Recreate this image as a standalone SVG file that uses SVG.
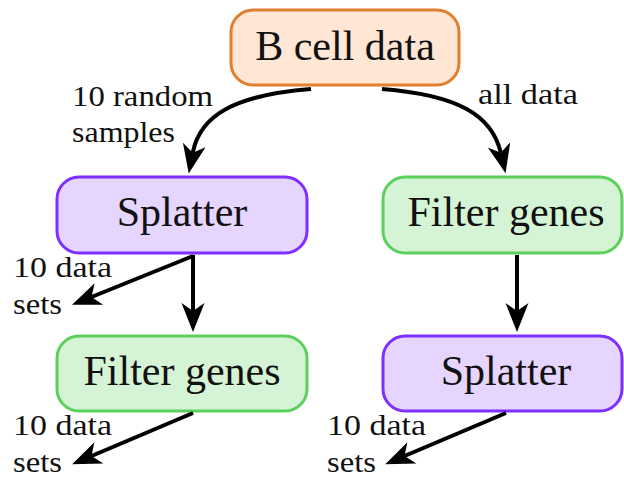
<svg xmlns="http://www.w3.org/2000/svg" width="624" height="479" viewBox="0 0 624 479">
<style>
.node rect{stroke-width:3}
.orange rect{fill:#FFE6D5;stroke:#E07F2E}
.purple rect{fill:#E5D5FF;stroke:#7F2FFF}
.green rect{fill:#D5F3D5;stroke:#5CD05C}
.node text{font-size:42px;fill:#111;text-anchor:middle}
.lbl{font-size:30px;fill:#111}
#connectors path{fill:none;stroke:#000;stroke-width:4}
</style>
<defs>
<marker id="stealth" viewBox="-10 -13 33 26" markerWidth="33" markerHeight="26" refX="0" refY="0" orient="auto" markerUnits="userSpaceOnUse">
<path d="M21,0 L-8,-11.5 L0,0 L-8,11.5 Z" fill="#000"/>
</marker>
</defs>
<rect width="624" height="479" fill="#fff"/>
<g font-family="'Liberation Serif', 'DejaVu Serif', serif">
<g id="bcell" class="node orange"><rect x="231" y="10" width="228" height="75" rx="22"/><text x="345" y="60">B cell data</text></g>
<g id="splatter1" class="node purple"><rect x="57" y="177" width="250" height="76" rx="22"/><text x="182" y="226">Splatter</text></g>
<g id="filter1" class="node green"><rect x="383" y="177" width="239" height="76" rx="22"/><text x="506" y="226">Filter genes</text></g>
<g id="filter2" class="node green"><rect x="57" y="336" width="250" height="75" rx="22"/><text x="182" y="385">Filter genes</text></g>
<g id="splatter2" class="node purple"><rect x="383" y="336" width="239" height="75" rx="22"/><text x="506" y="385">Splatter</text></g>
<g id="connectors">
<path d="M311,89 C235,95 200,115 192.7,152.8" marker-end="url(#stealth)"/>
<path d="M382,89 C458,95 492,115 500.8,152.8" marker-end="url(#stealth)"/>
<path d="M193,255 L193,311" marker-end="url(#stealth)"/>
<path d="M517,255 L517,311" marker-end="url(#stealth)"/>
<path d="M193,256 L91.5,297" marker-end="url(#stealth)"/>
<path d="M193,413 L91.5,456" marker-end="url(#stealth)"/>
<path d="M506,413 L404.5,456" marker-end="url(#stealth)"/>
</g>
<g id="labels">
<text class="lbl" x="72" y="106" textLength="141" lengthAdjust="spacingAndGlyphs">10 random</text>
<text class="lbl" x="72" y="142" textLength="103" lengthAdjust="spacingAndGlyphs">samples</text>
<text class="lbl" x="478" y="104" textLength="100" lengthAdjust="spacingAndGlyphs">all data</text>
<text class="lbl" x="13" y="277" textLength="99" lengthAdjust="spacingAndGlyphs">10 data</text>
<text class="lbl" x="13" y="314" textLength="49" lengthAdjust="spacingAndGlyphs">sets</text>
<text class="lbl" x="13" y="435" textLength="99" lengthAdjust="spacingAndGlyphs">10 data</text>
<text class="lbl" x="13" y="472" textLength="49" lengthAdjust="spacingAndGlyphs">sets</text>
<text class="lbl" x="327" y="435" textLength="99" lengthAdjust="spacingAndGlyphs">10 data</text>
<text class="lbl" x="327" y="472" textLength="49" lengthAdjust="spacingAndGlyphs">sets</text>
</g>
</g>
</svg>
